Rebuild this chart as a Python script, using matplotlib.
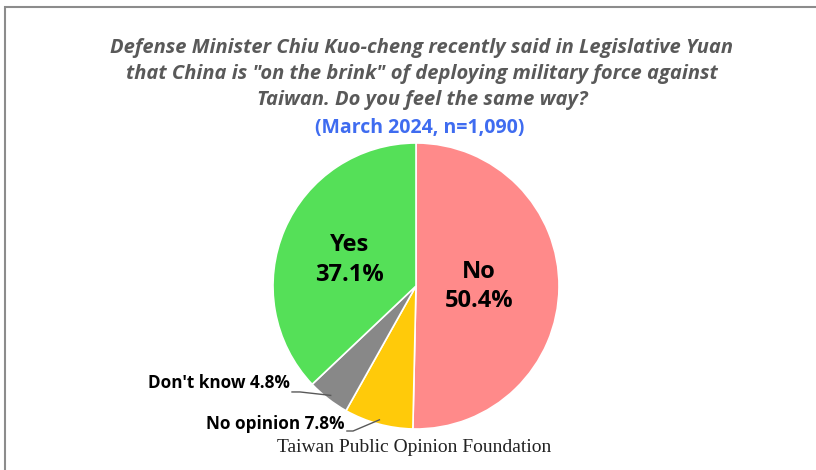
import numpy as np
import matplotlib.pyplot as plt
from matplotlib.patches import Rectangle

# survey answers, clockwise from 12 o'clock
answers = ["No", "No opinion", "Don't know", "Yes"]
shares = [50.4, 7.8, 4.8, 37.1]
colors = ["#FF8A8A", "#FFCA0A", "#888888", "#55E058"]

title = ("Defense Minister Chiu Kuo-cheng recently said in Legislative Yuan\n"
         "that China is \"on the brink\" of deploying military force against\n"
         "Taiwan. Do you feel the same way?")
subtitle = "(March 2024, n=1,090)"
source = "Taiwan Public Opinion Foundation"

W, H = 816, 470
fig = plt.figure(figsize=(W / 100, H / 100), dpi=100)
fig.patch.set_facecolor("white")

# frame line, cut off at right and bottom
fig.add_artist(Rectangle((5 / W, -0.2), 1.2, 1.2 - 7 / H, transform=fig.transFigure,
                         fill=False, edgecolor="#8C8C8C", lw=1.5))

cx, cy, r = 416, 286, 143
ax = fig.add_axes([(cx - r) / W, 1 - (cy + r) / H, 2 * r / W, 2 * r / H])
wedges, _ = ax.pie(shares, colors=colors, startangle=90, counterclock=False,
                   wedgeprops=dict(edgecolor="white", linewidth=1.2))
ax.set_xlim(-1, 1)
ax.set_ylim(-1, 1)
ax.set_aspect("equal")
ax.axis("off")

lab_font = dict(family="Open Sans", weight="bold", color="black")

def mid(w):
    a = np.deg2rad((w.theta1 + w.theta2) / 2)
    return np.cos(a), np.sin(a)

# inside labels
for i, rr, dx in [(0, 0.48, -0.04), (3, 0.46, -0.04)]:
    x, y = mid(wedges[i])
    ax.text(x * rr + dx, y * rr, f"{answers[i]}\n{shares[i]}%", ha="center", va="center",
            fontsize=17, linespacing=1.3, **lab_font)

# outside labels with leader lines
outer = [(2, (-0.881, -0.678), (-0.867, -0.741), (-0.811, -0.741)),
         (1, (-0.503, -0.965), (-0.483, -1.014), (-0.44, -1.014))]
for i, tpos, p0, p1 in outer:
    x, y = mid(wedges[i])
    ax.plot([p0[0], p1[0], x * 0.97], [p0[1], p1[1], y * 0.97], color="#595959",
            lw=1.0, clip_on=False)
    ax.text(tpos[0], tpos[1], f"{answers[i]} {shares[i]}%", ha="right", va="center",
            fontsize=12.3, **lab_font)

fig.text(0.517, 1 - 74 / H, title, ha="center", va="center", fontsize=14.5,
         family="Open Sans", weight="bold", style="italic", color="#595959",
         linespacing=1.4)
fig.text(0.514, 1 - 128 / H, subtitle, ha="center", va="center", fontsize=14,
         family="Open Sans", weight="bold", color="#3F6CF0")
fig.text(414 / W, 1 - 448 / H, source, ha="center", va="center", fontsize=14,
         family="Liberation Serif", color="#222222")

fig.savefig("out.png", dpi=100)
